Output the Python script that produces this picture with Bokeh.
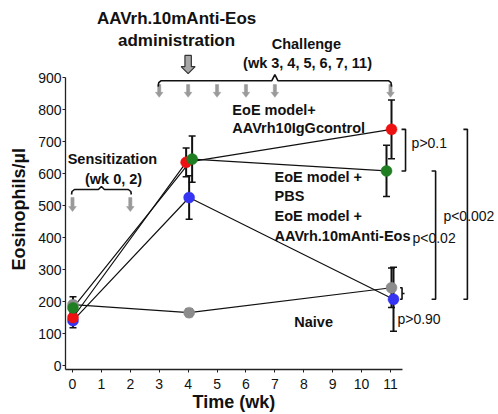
from bokeh.plotting import figure
from bokeh.models import Range1d, ColumnDataSource, Whisker, TeeHead, FixedTicker, Title
from bokeh.core.properties import value
from bokeh.embed import file_html
from bokeh.resources import INLINE

# ---------------- data ----------------
weeks = [0, 4, 11]
naive = [190, 165, 243]
naive_err = [25, 12, 62]
pbs = [180, 645, 608]
pbs_err = [20, 72, 80]
igg = [150, 635, 738]
igg_err = [20, 45, 92]
anti = [140, 525, 207]
anti_err = [22, 68, 100]

y_ticks = [0, 100, 200, 300, 400, 500, 600, 700, 800, 900]
x_ticks = [0, 1, 2, 3, 4, 5, 6, 7, 8, 9, 10, 11]

sensitization_weeks = [0, 2]
challenge_weeks = [3, 4, 5, 6, 7, 11]
admin_week = 4

p_labels = ["p>0.1", "p<0.02", "p<0.002", "p>0.90"]

# ---------------- layout ----------------
FIG_W, FIG_H = 498, 414
BL, BB = 65, 45
FRAME_W, FRAME_H = FIG_W - BL, FIG_H - BB
X0, Y0 = -0.242, -12.5
SX, SY = 28.91, 0.32          # px per week, px per cell/ul
X1 = X0 + FRAME_W / SX
Y1 = Y0 + FRAME_H / SY
X_AXIS_END = 11.42

def dx(px):
    return px / SX

def dy(px):
    return px / SY

FONT = value("Liberation Sans")

p = figure(width=FIG_W, height=FIG_H, output_backend="svg", toolbar_location=None,
           x_range=Range1d(X0, X1), y_range=Range1d(Y0, Y1),
           min_border_left=BL, min_border_bottom=BB, min_border_top=0, min_border_right=0)
p.outline_line_color = None
p.xgrid.visible = False
p.ygrid.visible = False
p.background_fill_color = "white"
p.border_fill_color = "white"

# axes
for ax in (p.xaxis[0], p.yaxis[0]):
    ax.axis_line_color = "#222222"
    ax.axis_line_width = 1.3
    ax.major_tick_line_color = "#222222"
    ax.major_tick_in = 0
    ax.major_tick_out = 3
    ax.minor_tick_line_color = None
    ax.major_label_text_font = "Liberation Sans"
    ax.major_label_text_font_size = "14px"
    ax.major_label_text_color = "#111111"

p.xaxis.ticker = FixedTicker(ticks=x_ticks)
p.yaxis.ticker = FixedTicker(ticks=y_ticks)
p.xaxis.bounds = (X0, X_AXIS_END)
p.yaxis.bounds = (Y0, 900)
p.xaxis.major_label_standoff = 6
p.yaxis.major_label_standoff = 1

# axis titles, placed under / beside the drawn axis lines
p.add_layout(Title(text="Time (wk)", align="left", offset=127, standoff=0,
                   vertical_align="top",
                   text_font="Liberation Sans", text_font_size="18px", text_font_style="bold",
                   text_color="#111111"), "below")
p.add_layout(Title(text="Eosinophils/\u00b5l", align="left", offset=99, standoff=12,
                   vertical_align="middle",
                   text_font="Liberation Sans", text_font_size="18px", text_font_style="bold",
                   text_color="#111111"), "left")

# ---------------- series ----------------
series = [
    ("naive", naive, naive_err, "#8c8c8c", [0.5, 1, 1]),
    ("anti", anti, anti_err, "#3434f2", [0.5, 1, 3]),
    ("igg", igg, igg_err, "#ee1111", [0.5, -2, 1]),
    ("pbs", pbs, pbs_err, "#1f7d22", [0.5, 4, -4]),
]

srcs = {}
for name, vals, errs, color, offs in series:
    xs = [w + dx(o) for w, o in zip(weeks, offs)]
    srcs[name] = ColumnDataSource(dict(
        x=xs, y=vals,
        upper=[v + e for v, e in zip(vals, errs)],
        lower=[v - e for v, e in zip(vals, errs)],
    ))

for name, vals, errs, color, offs in series:
    p.line("x", "y", source=srcs[name], line_color="#111111", line_width=1.2)

for name, vals, errs, color, offs in series:
    w = Whisker(base="x", upper="upper", lower="lower", source=srcs[name],
                line_color="#111111", line_width=2,
                upper_head=TeeHead(size=7, line_width=1.5, line_color="#111111"),
                lower_head=TeeHead(size=7, line_width=1.5, line_color="#111111"))
    p.add_layout(w)

for name, vals, errs, color, offs in series:
    p.scatter("x", "y", source=srcs[name], size=11, fill_color=color,
              line_color=color, line_width=0.5)

# ---------------- arrows ----------------
def down_arrow(xc, y_top, y_tip, shaft_hw, head_hw, head_len, fill, line, lw):
    sw, hw, hl = dx(shaft_hw), dx(head_hw), dy(head_len)
    xs = [xc - sw, xc + sw, xc + sw, xc + hw, xc, xc - hw, xc - sw]
    ys = [y_top, y_top, y_tip + hl, y_tip + hl, y_tip, y_tip + hl, y_tip + hl]
    p.patch(xs, ys, fill_color=fill, line_color=line, line_width=lw)

down_arrow(admin_week, 969, 912, 3.2, 7, 7, "#a8a8a8", "#333333", 1.2)
for w in challenge_weeks:
    down_arrow(w, 878, 838, 1.6, 3.8, 5, "#9a9a9a", "#9a9a9a", 0.5)
for w in sensitization_weeks:
    down_arrow(w, 525, 481, 1.6, 3.8, 5, "#9a9a9a", "#9a9a9a", 0.5)

# ---------------- braces ----------------
def brace(x0, x1, y, drop=6, cusp=6):
    xm = (x0 + x1) / 2
    xs = [x0, x0 + dx(0.5), x0 + dx(3), xm - dx(3), xm, xm + dx(3), x1 - dx(3), x1 - dx(0.5), x1]
    ys = [y - dy(drop), y - dy(2), y, y, y + dy(cusp), y, y, y - dy(2), y - dy(drop)]
    p.line(xs, ys, line_color="#111111", line_width=1.6)

brace(challenge_weeks[0] - dx(1), challenge_weeks[-1] + dx(1), 890)
brace(sensitization_weeks[0] - dx(1), sensitization_weeks[-1] + dx(1), 550, drop=5, cusp=3)

# ---------------- significance brackets ----------------
def bracket(x, top, bottom, tick=4):
    t = dx(tick)
    p.line([x - t, x, x, x - t], [top, top, bottom, bottom], line_color="#111111", line_width=1.6)

bracket(11.52, igg[2], pbs[2])
bracket(12.56, pbs[2], anti[2])
bracket(13.66, igg[2], anti[2])
# small brace between naive and anti at wk 11
bx = 11.33
mid = (naive[2] + anti[2]) / 2
p.line([bx, bx + dx(2), bx + dx(2), bx + dx(4.5), bx + dx(2), bx + dx(2), bx],
       [naive[2], naive[2], mid, mid, mid, anti[2], anti[2]],
       line_color="#111111", line_width=1.6)

# ---------------- texts ----------------
def txt(x, y, s, size, bold=True, align="left"):
    p.text(x=[x], y=[y], text=[s], text_font=FONT, text_font_size=size,
           text_font_style="bold" if bold else "normal", text_color="#111111",
           text_align=align, text_baseline="middle")

txt(3.6, 1084, "AAVrh.10mAnti-Eos", "17px", align="center")
txt(3.6, 1016, "administration", "17px", align="center")
txt(8.09, 1006, "Challenge", "14.5px", align="center")
txt(8.13, 944, "(wk 3, 4, 5, 6, 7, 11)", "14.5px", align="center")
txt(1.38, 644, "Sensitization", "14.5px", align="center")
txt(1.42, 584, "(wk 0, 2)", "14.5px", align="center")

txt(5.53, 797, "EoE model+", "14.5px")
txt(5.53, 741, "AAVrh10IgGcontrol", "14.5px")
txt(6.99, 588, "EoE model +", "14.5px")
txt(6.99, 531, "PBS", "14.5px")
txt(6.99, 466, "EoE model +", "14.5px")
txt(6.99, 406, "AAVrh.10mAnti-Eos", "14.5px")
txt(8.34, 137, "Naive", "14.5px", align="center")

txt(11.73, 694, p_labels[0], "14px", bold=False)
txt(11.76, 397, p_labels[1], "14px", bold=False)
txt(12.83, 466, p_labels[2], "14px", bold=False)
txt(11.24, 144, p_labels[3], "14px", bold=False)

open("out.html", "w").write(file_html(p, INLINE))
